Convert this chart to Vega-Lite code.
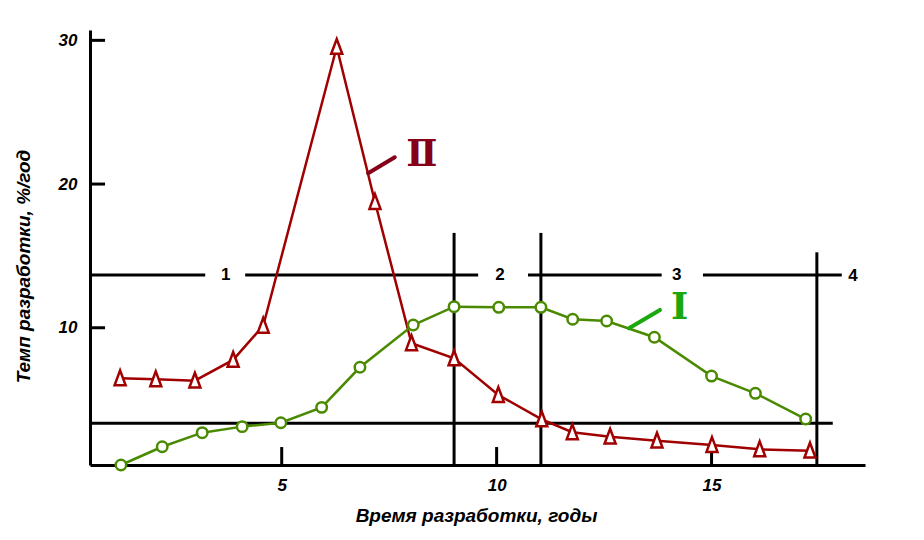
{
  "$schema": "https://vega.github.io/schema/vega-lite/v6.json",
  "width": 775,
  "height": 435,
  "autosize": {"type": "none"},
  "padding": {"left": 90, "top": 30, "right": 59, "bottom": 75},
  "background": "white",
  "config": {
    "view": {"stroke": null},
    "axis": {
      "grid": false,
      "ticks": false,
      "domainColor": "black",
      "domainWidth": 3,
      "labelFont": "Liberation Sans",
      "labelFontStyle": "italic",
      "labelFontWeight": "bold",
      "labelFontSize": 17,
      "labelColor": "black",
      "titleFont": "Liberation Sans",
      "titleFontStyle": "italic",
      "titleFontWeight": "bold",
      "titleFontSize": 19,
      "titleColor": "black"
    }
  },
  "datasets": {
    "curves": [
      {"series": "II", "x": 1.24, "y": 6.48},
      {"series": "II", "x": 2.07, "y": 6.41},
      {"series": "II", "x": 2.98, "y": 6.32},
      {"series": "II", "x": 3.87, "y": 7.76},
      {"series": "II", "x": 4.57, "y": 10.14},
      {"series": "II", "x": 6.28, "y": 29.54},
      {"series": "II", "x": 7.17, "y": 18.75},
      {"series": "II", "x": 8.02, "y": 8.92},
      {"series": "II", "x": 9.01, "y": 7.87},
      {"series": "II", "x": 10.04, "y": 5.32},
      {"series": "II", "x": 11.05, "y": 3.63},
      {"series": "II", "x": 11.76, "y": 2.73},
      {"series": "II", "x": 12.64, "y": 2.42},
      {"series": "II", "x": 13.73, "y": 2.14},
      {"series": "II", "x": 15.01, "y": 1.84},
      {"series": "II", "x": 16.12, "y": 1.54},
      {"series": "II", "x": 17.29, "y": 1.45},
      {"series": "I", "x": 1.26, "y": 0.45},
      {"series": "I", "x": 2.22, "y": 1.72},
      {"series": "I", "x": 3.15, "y": 2.7},
      {"series": "I", "x": 4.08, "y": 3.12},
      {"series": "I", "x": 4.98, "y": 3.39},
      {"series": "I", "x": 5.93, "y": 4.46},
      {"series": "I", "x": 6.82, "y": 7.25},
      {"series": "I", "x": 8.06, "y": 10.19},
      {"series": "I", "x": 9.01, "y": 11.47},
      {"series": "I", "x": 10.05, "y": 11.42},
      {"series": "I", "x": 11.03, "y": 11.42},
      {"series": "I", "x": 11.77, "y": 10.59},
      {"series": "I", "x": 12.56, "y": 10.47},
      {"series": "I", "x": 13.67, "y": 9.34},
      {"series": "I", "x": 15.0, "y": 6.64},
      {"series": "I", "x": 16.02, "y": 5.44},
      {"series": "I", "x": 17.19, "y": 3.65}
    ],
    "segments": [
      {"x0": 0.54, "x1": 3.22, "y0": 13.67, "y1": 13.67},
      {"x0": 4.15, "x1": 9.57, "y0": 13.67, "y1": 13.67},
      {"x0": 10.73, "x1": 13.84, "y0": 13.67, "y1": 13.67},
      {"x0": 14.8, "x1": 18.03, "y0": 13.67, "y1": 13.67},
      {"x0": 0.54, "x1": 17.82, "y0": 3.35, "y1": 3.35},
      {"x0": 9.01, "x1": 9.01, "y0": 0.45, "y1": 16.6},
      {"x0": 11.03, "x1": 11.03, "y0": 0.45, "y1": 16.6},
      {"x0": 17.45, "x1": 17.45, "y0": 0.45, "y1": 15.25},
      {"x0": 5, "x1": 5, "y0": 0.45, "y1": 1.7},
      {"x0": 10, "x1": 10, "y0": 0.45, "y1": 1.7},
      {"x0": 15, "x1": 15, "y0": 0.45, "y1": 1.7},
      {"x0": 0.54, "x1": 0.89, "y0": 10, "y1": 10},
      {"x0": 0.54, "x1": 0.89, "y0": 20, "y1": 20},
      {"x0": 0.54, "x1": 0.89, "y0": 30, "y1": 30}
    ],
    "zones": [
      {"t": "1", "x": 3.7, "y": 13.67},
      {"t": "2", "x": 10.08, "y": 13.67},
      {"t": "3", "x": 14.19, "y": 13.67},
      {"t": "4", "x": 18.29, "y": 13.6}
    ],
    "leaders": [
      {"series": "II", "x0": 7.01, "y0": 20.75, "x1": 7.63, "y1": 21.86},
      {"series": "I", "x0": 13.08, "y0": 9.96, "x1": 13.8, "y1": 11.24}
    ],
    "numerals": [
      {"series": "II", "t": "Ⅱ", "x": 8.26, "y": 22.02},
      {"series": "I", "t": "I", "x": 14.26, "y": 11.38}
    ]
  },
  "layer": [
    {
      "data": {"name": "segments"},
      "mark": {"type": "rule", "color": "black", "strokeWidth": 3},
      "encoding": {
        "x": {"field": "x0", "type": "quantitative", "scale": {"domain": [0.54, 18.57], "nice": false, "zero": false},
          "axis": {"values": [5, 10, 15], "labelPadding": 12, "title": "Время разработки, годы", "titleX": 386, "titleY": 50, "titleAnchor": null, "titleAlign": "center", "titleBaseline": "middle"}},
        "x2": {"field": "x1"},
        "y": {"field": "y0", "type": "quantitative", "scale": {"domain": [0.45, 30.72], "nice": false, "zero": false},
          "axis": {"values": [10, 20, 30], "labelPadding": 13, "title": "Темп разработки, %/год", "titleX": -67, "titleY": 236, "titleAngle": 270, "titleAlign": "center", "titleBaseline": "middle"}},
        "y2": {"field": "y1"}
      }
    },
    {
      "data": {"name": "zones"},
      "mark": {"type": "text", "font": "Liberation Sans", "fontWeight": "bold", "fontSize": 17, "color": "black", "align": "center", "baseline": "middle"},
      "encoding": {
        "x": {"field": "x", "type": "quantitative"},
        "y": {"field": "y", "type": "quantitative"},
        "text": {"field": "t"}
      }
    },
    {
      "data": {"name": "curves"},
      "mark": {"type": "line", "strokeWidth": 2.5},
      "encoding": {
        "x": {"field": "x", "type": "quantitative"},
        "y": {"field": "y", "type": "quantitative"},
        "color": {"field": "series", "type": "nominal", "scale": {"domain": ["I", "II"], "range": ["#4a8a00", "#a00000"]}, "legend": null}
      }
    },
    {
      "data": {"name": "curves"},
      "mark": {"type": "point", "filled": false, "fill": "white", "fillOpacity": 1, "strokeWidth": 2.5, "opacity": 1},
      "encoding": {
        "x": {"field": "x", "type": "quantitative"},
        "y": {"field": "y", "type": "quantitative"},
        "color": {"field": "series", "type": "nominal", "scale": {"domain": ["I", "II"], "range": ["#4a8a00", "#a00000"]}, "legend": null},
        "shape": {"field": "series", "type": "nominal", "scale": {"domain": ["I", "II"], "range": ["circle", "M0,-1.15L0.8,1L-0.8,1Z"]}, "legend": null},
        "size": {"field": "series", "type": "nominal", "scale": {"domain": ["I", "II"], "range": [110, 190]}, "legend": null}
      }
    },
    {
      "data": {"name": "leaders"},
      "mark": {"type": "rule", "strokeWidth": 4, "strokeCap": "round"},
      "encoding": {
        "x": {"field": "x0", "type": "quantitative"},
        "x2": {"field": "x1"},
        "y": {"field": "y0", "type": "quantitative"},
        "y2": {"field": "y1"},
        "color": {"field": "series", "type": "nominal", "scale": {"domain": ["I", "II"], "range": ["#1aa80e", "#850018"]}, "legend": null}
      }
    },
    {
      "data": {"name": "numerals"},
      "mark": {"type": "text", "font": "DejaVu Serif", "fontWeight": "bold", "fontSize": 37, "align": "center", "baseline": "middle"},
      "encoding": {
        "x": {"field": "x", "type": "quantitative"},
        "y": {"field": "y", "type": "quantitative"},
        "text": {"field": "t"},
        "color": {"field": "series", "type": "nominal", "scale": {"domain": ["I", "II"], "range": ["#1aa80e", "#850018"]}, "legend": null}
      }
    }
  ],
  "resolve": {"scale": {"color": "independent"}}
}
